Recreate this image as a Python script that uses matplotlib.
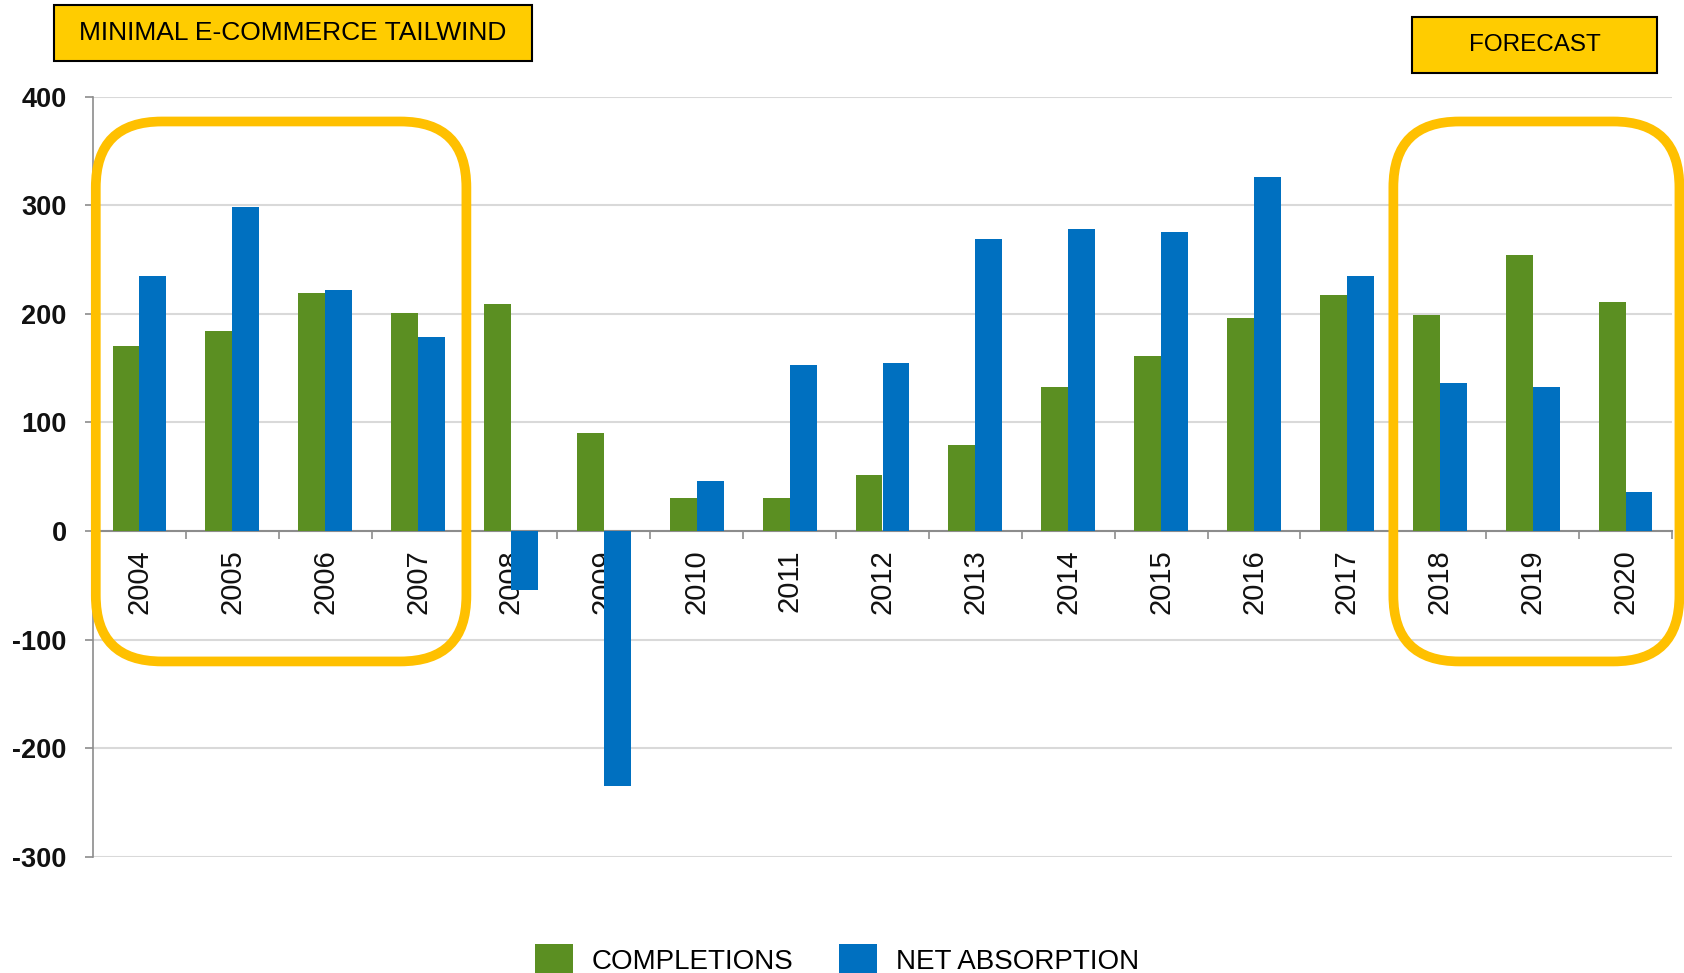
import matplotlib
matplotlib.use("Agg")
import matplotlib.pyplot as plt
import numpy as np
from matplotlib.patches import FancyBboxPatch, Rectangle

plt.rcParams['font.family'] = ['Liberation Sans', 'DejaVu Sans']
plt.rcParams['axes.unicode_minus'] = False

# dados
anos = ['2004', '2005', '2006', '2007', '2008', '2009', '2010', '2011', '2012',
        '2013', '2014', '2015', '2016', '2017', '2018', '2019', '2020']
completions = [170, 184, 219, 201, 209, 90, 30, 30, 52, 79, 133, 161, 196, 217, 199, 254, 211]
net_absorption = [235, 298, 222, 179, -54, -235, 46, 153, 155, 269, 278, 275, 326, 235, 136, 133, 36]
rotulo_esq = 'MINIMAL E-COMMERCE TAILWIND'
rotulo_dir = 'FORECAST'

verde = '#5B8F22'
azul = '#0070C0'
amarelo = '#FFC000'
caixa = '#FFCC00'

W, H = 1684, 973
fig = plt.figure(figsize=(W / 100, H / 100), dpi=100)
ax = fig.add_axes([93 / W, 1 - 857 / H, (1672 - 93) / W, (857 - 96.5) / H])

x = np.arange(len(anos))
larg = 0.29
ax.bar(x - larg / 2, completions, larg, color=verde, label='COMPLETIONS', zorder=3)
ax.bar(x + larg / 2, net_absorption, larg, color=azul, label='NET ABSORPTION', zorder=3)

ax.set_xlim(-0.5, len(anos) - 0.5)
ax.set_ylim(-300, 400)
ax.set_yticks(range(-300, 401, 100))
ax.grid(axis='y', color='#d9d9d9', lw=1.5, zorder=0)
ax.set_axisbelow(True)

for s in ['top', 'right']:
    ax.spines[s].set_visible(False)
ax.spines['bottom'].set_position(('data', 0))
ax.spines['bottom'].set_color('#8c8c8c')
ax.spines['bottom'].set_linewidth(1.5)
ax.spines['left'].set_color('#8c8c8c')
ax.spines['left'].set_linewidth(1.2)

ax.set_xticks(x)
ax.set_xticklabels(anos, rotation=90, fontsize=21, color='#111111')
ax.tick_params(axis='x', which='major', length=0, pad=13)
ax.set_xticks(np.arange(-0.5, len(anos), 1), minor=True)
ax.tick_params(axis='x', which='minor', length=6, width=1.2, color='#8c8c8c', direction='out')
ax.tick_params(axis='y', length=6, width=1.2, color='#8c8c8c', pad=13, labelsize=19.5,
               labelcolor='#111111')
for t in ax.get_yticklabels():
    t.set_fontweight('bold')

# caixas arredondadas amarelas
fig.canvas.draw()
def caixa_redonda(x0, x1, y0, y1):
    p0 = ax.transData.transform((x0, y0))
    p1 = ax.transData.transform((x1, y1))
    pat = FancyBboxPatch((p0[0], p1[1]), p1[0] - p0[0], p0[1] - p1[1],
                         boxstyle='round,pad=0,rounding_size=66',
                         fill=False, ec=amarelo, lw=7, transform=None, zorder=5)
    fig.add_artist(pat)

caixa_redonda(-0.47, 3.52, 377, -120)
caixa_redonda(13.5, 16.58, 377, -120)

# rotulos no topo
def rotulo(txt, x0, x1, y0, y1, fs):
    r = Rectangle((x0 / W, 1 - y1 / H), (x1 - x0) / W, (y1 - y0) / H,
                  fc=caixa, ec='black', lw=1.5, transform=fig.transFigure)
    fig.add_artist(r)
    fig.text((x0 + x1) / 2 / W, 1 - (y0 + y1) / 2 / H, txt, ha='center', va='center',
             fontsize=fs, color='black')

rotulo(rotulo_esq, 54, 532, 5, 61, 19)
rotulo(rotulo_dir, 1412, 1657, 17, 73, 17.5)

fig.legend(loc='upper center', bbox_to_anchor=(0.497, 1 - 930 / H), ncol=2, frameon=False,
           fontsize=20, handlelength=1.37, handleheight=1.37, handletextpad=0.68,
           columnspacing=1.65, borderpad=0)

fig.savefig('out.png', dpi=100)
